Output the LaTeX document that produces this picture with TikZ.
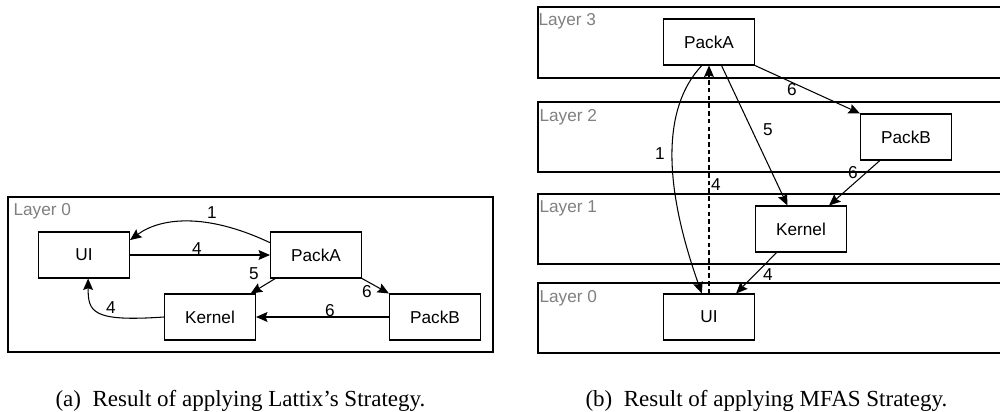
\documentclass[tikz,border=0pt]{standalone}
\usepackage{fontspec}
\setmainfont{Liberation Serif}
\newfontfamily\helv{Liberation Sans}
\usetikzlibrary{arrows.meta}

\begin{document}
\begin{tikzpicture}[x=0.02cm, y=-0.02cm, line width=0.6pt,
    pkg/.style={draw, rectangle, minimum width=1.82cm, minimum height=0.92cm, inner sep=0pt,
        font=\helv\fontsize{9.8}{12}\selectfont},
    layer/.style={draw, line width=0.7pt},
    lyrname/.style={anchor=base west, inner sep=0pt, text=black!50,
        font=\helv\fontsize{9.8}{12}\selectfont},
    num/.style={inner sep=0pt, font=\helv\fontsize{9.8}{12}\selectfont},
    dep/.style={-{Stealth[length=6.5pt, width=5.6pt, inset=1pt]}},
    subcap/.style={anchor=base west, inner sep=0pt, font=\fontsize{13.1}{15}\selectfont}]
    \useasboundingbox (0,0) rectangle (1000,412);

    % (a) Lattix
    \draw[layer] (8,197) rectangle (493,352);
    \node[lyrname] (la0) at (13,215) {Layer 0};
    \node[pkg] (ui) at (84,255) {UI};
    \node[pkg] (pa) at (316,255) {PackA};
    \node[pkg] (kn) at (210,317) {Kernel};
    \node[pkg] (pb) at (435,317) {PackB};

    \draw[dep] (pa.165) .. controls (205,212) and (160,218) .. (ui.18);
    \node[num] (e1) at (212,213) {1};
    \draw[dep] (ui.east) -- (pa.west);
    \node[num] (e2) at (197,249) {4};
    \draw[dep] (pa.210) -- (kn.30);
    \node[num] (e3) at (254,274) {5};
    \draw[dep] (pa.south east) -- (pb.north west);
    \node[num] (e4) at (367,292) {6};
    \draw[dep] (pb.west) -- (kn.east);
    \node[num] (e5) at (330,311) {6};
    \draw[dep] (kn.west) .. controls (92,322) and (88,312) .. (ui.280);
    \node[num] (e6) at (111,308) {4};

    % (b) MFAS
    \draw[layer] (538,7) rectangle (1003,78);
    \draw[layer] (538,102) rectangle (1003,172);
    \draw[layer] (538,194) rectangle (1003,264);
    \draw[layer] (538,283) rectangle (1003,353);
    \node[lyrname] (lb3) at (538,26) {Layer 3};
    \node[lyrname] (lb2) at (539,121) {Layer 2};
    \node[lyrname] (lb1) at (539,212) {Layer 1};
    \node[lyrname] (lb0) at (539,302) {Layer 0};

    \node[pkg] (pa2) at (709,42) {PackA};
    \node[pkg] (pb2) at (906,137) {PackB};
    \node[pkg] (kn2) at (801,229) {Kernel};
    \node[pkg] (ui2) at (709,317) {UI};

    \draw[dep] (pa2.south east) -- (pb2.north west);
    \node[num] (f1) at (792,90) {6};
    \draw[dep] (pa2.-107) .. controls (660,110) and (665,190) .. (ui2.107);
    \node[num] (f2) at (660,154) {1};
    \draw[dep, dash pattern=on 2.6pt off 1.8pt] (ui2.north) -- (pa2.south);
    \node[num] (f3) at (716,185) {4};
    \draw[dep] (pa2.-62) -- (kn2.120);
    \node[num] (f4) at (768,130) {5};
    \draw[dep] (pb2.-138) -- (kn2.40);
    \node[num] (f5) at (853,173) {6};
    \draw[dep] (kn2.-136) -- (ui2.41);
    \node[num] (f6) at (768,275) {4};

    % captions
    \node[subcap] (ca) at (55,406) {(a)\enspace Result of applying Lattix’s Strategy.};
    \node[subcap] (cb) at (585,406) {(b)\enspace Result of applying MFAS Strategy.};
\end{tikzpicture}
\end{document}
